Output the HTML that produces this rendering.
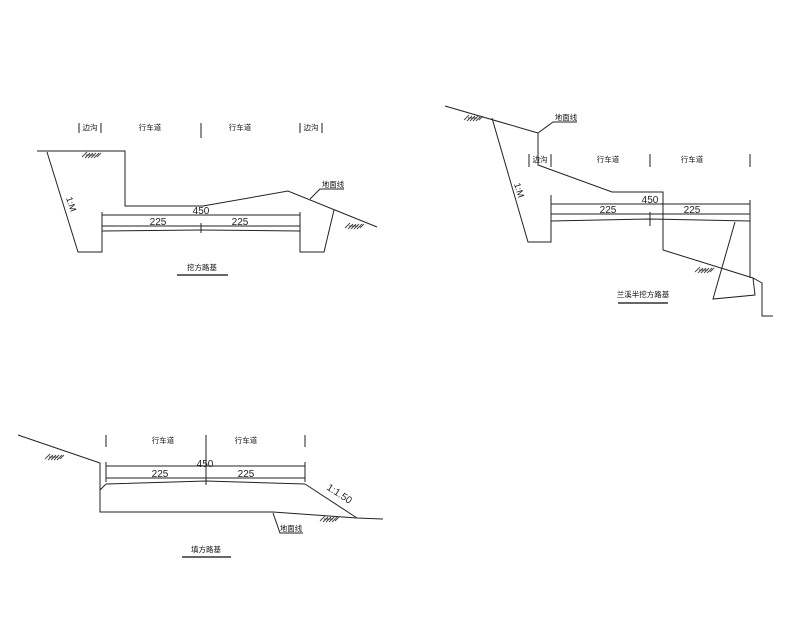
<!DOCTYPE html>
<html><head><meta charset="utf-8"><style>
html,body{margin:0;padding:0;background:#fff;}
svg{display:block;}
text{font-family:"Liberation Sans","Noto Sans CJK SC",sans-serif;fill:#111;}
.cn{font-size:7.5px;}
.dim{font-size:10px;fill:#222;}
</style></head><body>
<svg width="800" height="640" viewBox="0 0 800 640" xmlns="http://www.w3.org/2000/svg">
<defs>
<g id="h" stroke="#444" stroke-width="0.9" fill="none">
<path d="M-10 6 L-5 1 M-7 7 L-2 2 M-4 7 L1 2 M-1 7 L4 2 M2 7 L7 2 M5 6 L9 2 M-6 4 L3 4"/>
</g>
</defs>
<g stroke="#222" stroke-width="1" fill="none">
<!-- Diagram 1 -->
<path d="M37 151 H125 V206 H203 L288 191 L377 227"/>
<path d="M47 152 L78 252 H102 V215"/>
<path d="M300 215 V252 H324 L334 210"/>
<path d="M102 215 H300 M102 226 H300 M102 231 L200 230 L300 231"/>
<path d="M201 223 V233 M102 212 V230 M300 212 V230"/>
<path d="M79 123 V133 M101 123 V133 M201 123 V138 M300 123 V133 M322 123 V133"/>
<path d="M310 199 L320 189 H344"/>
<!-- Diagram 2 -->
<path d="M445 106 L538 133 V165 L612 192 H663 V250 L753 278 L762 283 V316 H773"/>
<path d="M492 118 L528 242 H551 V195"/>
<path d="M735 222 L713 299 L755 295 L753 278"/>
<path d="M750 210 V278"/>
<path d="M551 204 H750 M551 214 H750 M551 221 L650 219 L750 221"/>
<path d="M650 212 V226 M551 200 V216 M750 200 V216"/>
<path d="M529 154 V167 M551 154 V167 M650 154 V167 M750 154 V167"/>
<path d="M538 133 L553 122 H577"/>
<!-- Diagram 3 -->
<path d="M18 435 L100 463 V512 H273 L357 518 L383 519"/>
<path d="M305 484 L357 518"/>
<path d="M106 466 H305 M106 478 H305 M106 484 L206 481 L305 484 M106 484 L100 490"/>
<path d="M106 435 V447 M206 435 V485 M305 435 V447 M106 462 V482 M305 462 V482"/>
<path d="M273 513 L280 533 H303"/>
</g>
<g stroke="#666" stroke-width="2">
<path d="M177 275 H228 M618 303 H668 M182 557 H231"/>
</g>
<use href="#h" x="92" y="151"/>
<use href="#h" x="355" y="222"/>
<use href="#h" x="474" y="114"/>
<use href="#h" x="705" y="266"/>
<use href="#h" x="55" y="453"/>
<use href="#h" x="330" y="515"/>
<text class="cn" x="90" y="130" text-anchor="middle">边沟</text>
<text class="cn" x="150" y="130" text-anchor="middle">行车道</text>
<text class="cn" x="240" y="130" text-anchor="middle">行车道</text>
<text class="cn" x="311" y="130" text-anchor="middle">边沟</text>
<text class="cn" x="333" y="187" text-anchor="middle">地面线</text>
<text class="dim" x="201" y="214" text-anchor="middle">450</text>
<text class="dim" x="158" y="225" text-anchor="middle">225</text>
<text class="dim" x="240" y="225" text-anchor="middle">225</text>
<text class="cn" x="202" y="270" text-anchor="middle">挖方路基</text>
<text class="cn" style="font-size:9px" transform="translate(66,198) rotate(72)">1:M</text>
<text class="cn" x="540" y="162" text-anchor="middle">边沟</text>
<text class="cn" x="608" y="162" text-anchor="middle">行车道</text>
<text class="cn" x="692" y="162" text-anchor="middle">行车道</text>
<text class="cn" x="566" y="120" text-anchor="middle">地面线</text>
<text class="dim" x="650" y="203" text-anchor="middle">450</text>
<text class="dim" x="608" y="213" text-anchor="middle">225</text>
<text class="dim" x="692" y="213" text-anchor="middle">225</text>
<text class="cn" x="643" y="297" text-anchor="middle">兰溪半挖方路基</text>
<text class="cn" style="font-size:9px" transform="translate(514,184) rotate(73)">1:M</text>
<text class="cn" x="163" y="443" text-anchor="middle">行车道</text>
<text class="cn" x="246" y="443" text-anchor="middle">行车道</text>
<text class="dim" x="205" y="467" text-anchor="middle">450</text>
<text class="dim" x="160" y="477" text-anchor="middle">225</text>
<text class="dim" x="246" y="477" text-anchor="middle">225</text>
<text class="cn" x="291" y="531" text-anchor="middle">地面线</text>
<text class="cn" x="206" y="552" text-anchor="middle">填方路基</text>
<text class="dim" transform="translate(326,489) rotate(33)">1:1.50</text>
</svg>
</body></html>
